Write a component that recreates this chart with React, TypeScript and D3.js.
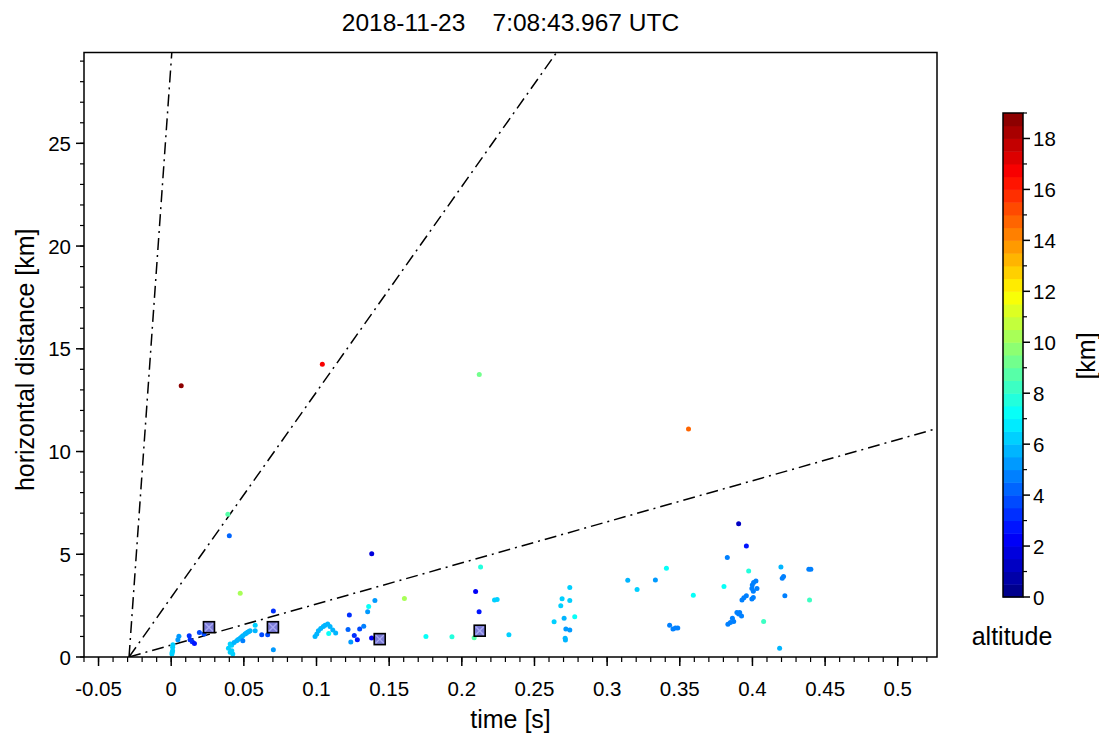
import React from 'react';
import * as d3 from 'd3';

const titleText = '2018-11-23    7:08:43.967 UTC';
const xLabel = 'time [s]';
const yLabel = 'horizontal distance [km]';
const cbUnit = '[km]';
const cbLabel = 'altitude';

const xMajorTicks = [-0.05, 0, 0.05, 0.1, 0.15, 0.2, 0.25, 0.3, 0.35, 0.4, 0.45, 0.5];
const xTickLabels = ['-0.05', '0', '0.05', '0.1', '0.15', '0.2', '0.25', '0.3', '0.35', '0.4', '0.45', '0.5'];
const yMajorTicks = [0, 5, 10, 15, 20, 25];
const cbMajorTicks = [0, 2, 4, 6, 8, 10, 12, 14, 16, 18];

// sources: time [s], horizontal distance [km], altitude [km]
const times = [
  0.0069, 0.104, 0.212, 0.356, 0.039, 0.040, 0.138, 0.0475, 0.1605,
  0.0012, 0.001, 0.001, 0.0007, 0.0005, 0.0053, 0.0046, 0.0124, 0.013, 0.0145, 0.016, 0.0194, 0.0226,
  0.0406, 0.0394, 0.0406, 0.0424, 0.0417, 0.0416, 0.0433, 0.0451, 0.0461, 0.0474, 0.0484, 0.0493, 0.0508, 0.0516, 0.0525, 0.0535, 0.0543, 0.0578, 0.0578, 0.0493, 0.0623, 0.0664, 0.0703, 0.0703,
  0.099, 0.1002, 0.1013, 0.1029, 0.1047, 0.1059, 0.1077, 0.1093, 0.1112, 0.1132, 0.1084,
  0.1402, 0.1359, 0.1352, 0.1226, 0.1325, 0.1297, 0.1217, 0.126, 0.1281, 0.1236, 0.1379,
  0.1753, 0.1932, 0.2085, 0.2129, 0.2095, 0.2225, 0.2243, 0.2119, 0.2324,
  0.2743, 0.269, 0.2743, 0.2681, 0.2704, 0.2777, 0.2635, 0.2716, 0.2743, 0.2711, 0.2713,
  0.3408, 0.3142, 0.3332, 0.3206, 0.343, 0.3453, 0.347, 0.3486,
  0.3593, 0.3804, 0.3827, 0.3905, 0.3958, 0.3974, 0.4196, 0.4388, 0.4402, 0.4205, 0.4214, 0.4223, 0.4393, 0.4077, 0.4187,
  0.4024, 0.4008, 0.3999, 0.3996, 0.4006, 0.4031, 0.3996, 0.4006, 0.3928, 0.3941, 0.3958,
  0.3893, 0.3912, 0.3925, 0.3905, 0.3862, 0.3871, 0.3848, 0.3831,
];
const dists = [
  13.2, 14.25, 13.75, 11.1, 6.95, 5.9, 5.03, 3.1, 2.85,
  0.6, 0.47, 0.31, 0.23, 0.15, 1.01, 0.84, 1.03, 0.84, 0.74, 0.66, 1.19, 1.12,
  0.63, 0.42, 0.23, 0.15, 0.31, 0.57, 0.71, 0.79, 0.85, 0.91, 0.97, 1.03, 1.12, 1.16, 1.2, 1.24, 1.28, 1.28, 1.55, 0.79, 1.08, 1.08, 2.24, 0.35,
  1.0, 1.12, 1.28, 1.39, 1.49, 1.55, 1.6, 1.49, 1.32, 1.17, 1.14,
  2.75, 2.46, 2.2, 2.04, 1.5, 1.36, 1.34, 1.05, 0.84, 0.73, 0.92,
  1.0, 0.98, 0.94, 4.38, 3.19, 2.77, 2.8, 2.2, 1.08,
  3.38, 2.83, 2.75, 2.49, 1.89, 1.96, 1.71, 1.36, 1.31, 0.91, 0.83,
  4.32, 3.74, 3.75, 3.29, 1.55, 1.36, 1.41, 1.41,
  3.0, 3.43, 4.84, 6.49, 5.4, 4.19, 4.38, 4.27, 4.27, 3.83, 3.92, 2.98, 2.78, 1.73, 0.42,
  3.7, 3.63, 3.51, 3.33, 3.2, 3.33, 2.82, 2.9, 2.78, 2.88, 2.98,
  2.17, 2.17, 2.0, 2.09, 1.89, 1.73, 1.68, 1.59,
];
const alts = [
  18.5, 16.5, 9.2, 14.5, 8.5, 4.2, 1.5, 10.2, 10.2,
  6.3, 6.0, 6.0, 6.0, 6.0, 5.0, 5.0, 3.0, 3.0, 3.0, 2.5, 3.5, 3.5,
  6.2, 6.2, 6.2, 6.2, 6.2, 6.0, 5.5, 5.5, 5.5, 5.5, 5.5, 5.5, 5.5, 5.5, 5.5, 5.5, 5.5, 5.5, 6.3, 4.8, 3.8, 3.8, 3.0, 5.0,
  5.5, 5.5, 5.5, 5.5, 5.5, 5.5, 5.5, 5.5, 5.5, 5.5, 7.0,
  5.0, 7.0, 5.0, 3.0, 4.5, 3.5, 4.0, 3.0, 2.5, 5.0, 2.0,
  7.2, 7.8, 8.5, 7.5, 2.2, 6.0, 6.0, 2.8, 6.0,
  6.0, 6.3, 6.0, 6.3, 5.5, 7.2, 6.0, 5.3, 5.3, 5.8, 5.8,
  7.0, 5.8, 5.3, 6.0, 4.5, 4.8, 4.8, 4.8,
  7.0, 7.2, 4.5, 1.2, 2.8, 7.8, 5.5, 4.5, 4.5, 4.5, 4.5, 4.7, 8.0, 8.0, 5.5,
  4.7, 4.7, 4.7, 4.7, 4.7, 4.7, 4.7, 4.7, 4.7, 4.7, 4.7,
  4.5, 4.5, 4.5, 4.5, 4.5, 4.5, 4.5, 4.5,
];

const markerTimes = [0.026, 0.07, 0.1435, 0.2123];
const markerDists = [1.45, 1.45, 0.87, 1.28];

const lineOrigin = -0.029; // s
const lineSpeeds = [1000, 100, 20]; // km/s

const W = 1099;
const H = 738;
const L = 84, R = 937, T = 52.5, B = 657;
const xDomain = [-0.06, 0.527];
const yDomain = [0, 29.42];
const altDomain = [0, 19];
const nLevels = 38;

const CB = { x: 1003, w: 20, top: 113, bottom: 597 };

function clamp01(v: number) { return Math.max(0, Math.min(1, v)); }
function jet(x: number) {
  const r = clamp01(Math.min(4 * x - 1.5, -4 * x + 4.5));
  const g = clamp01(Math.min(4 * x - 0.5, -4 * x + 3.5));
  const b = clamp01(Math.min(4 * x + 0.5, -4 * x + 2.5));
  return d3.rgb(r * 255, g * 255, b * 255).formatHex();
}
function altColor(a: number) {
  const step = (altDomain[1] - altDomain[0]) / nLevels;
  const idx = Math.max(0, Math.min(nLevels - 1, Math.floor((a - altDomain[0]) / step)));
  return jet((idx + 0.5) / nLevels);
}

export default function App() {
  const x = d3.scaleLinear().domain(xDomain).range([L, R]);
  const y = d3.scaleLinear().domain(yDomain).range([B, T]);
  const cbY = d3.scaleLinear().domain(altDomain).range([CB.bottom, CB.top]);

  const xMinor = d3.range(-60, 527, 10).map((v) => v / 1000);
  const yMinor = d3.range(0, 30, 1);
  const cbMinor = d3.range(1, 20, 2);

  const font = 'Liberation Sans, Arial, sans-serif';
  const step = (altDomain[1] - altDomain[0]) / nLevels;
  const levels = d3.range(nLevels);

  const lineGen = d3.line<[number, number]>().x((d) => x(d[0])).y((d) => y(d[1]));
  const tickFs = 20.5;
  const labelFs = 25;

  return (
    <svg width={W} height={H} style={{ position: 'absolute', left: 0, top: 0, background: '#fff' }} fontFamily={font}>
      <defs>
        <clipPath id="plotclip">
          <rect x={L} y={T} width={R - L} height={B - T} />
        </clipPath>
      </defs>
      <rect x={0} y={0} width={W} height={H} fill="#fff" />
      <text x={(L + R) / 2} y={31} textAnchor="middle" fontSize={24.5} style={{ whiteSpace: 'pre' }}>{titleText}</text>

      {/* reference speed lines */}
      <g clipPath="url(#plotclip)">
        {lineSpeeds.map((v, i) => {
          const tEnd = xDomain[1];
          const pts: [number, number][] = [[lineOrigin, 0], [tEnd, v * (tEnd - lineOrigin)]];
          return <path key={i} d={lineGen(pts) || ''} fill="none" stroke="#000" strokeWidth={1.5} strokeDasharray="12,5,2,5" />;
        })}
      </g>

      {/* points */}
      <g clipPath="url(#plotclip)">
        {times.map((t, i) => (
          <circle key={i} cx={x(t)} cy={y(dists[i])} r={2.5} fill={altColor(alts[i])} />
        ))}
        {markerTimes.map((t, i) => {
          const cx = x(t), cy = y(markerDists[i]), s = 5.5;
          return (
            <g key={'m' + i}>
              <rect x={cx - s} y={cy - s} width={2 * s} height={2 * s} fill="#7b7bd6" stroke="#000" strokeWidth={1.6} />
              <line x1={cx - s + 1.5} y1={cy - s + 1.5} x2={cx + s - 1.5} y2={cy + s - 1.5} stroke="#a9a9f2" strokeWidth={1.4} />
              <line x1={cx - s + 1.5} y1={cy + s - 1.5} x2={cx + s - 1.5} y2={cy - s + 1.5} stroke="#a9a9f2" strokeWidth={1.4} />
            </g>
          );
        })}
      </g>

      {/* frame */}
      <rect x={L} y={T} width={R - L} height={B - T} fill="none" stroke="#000" strokeWidth={1.5} />

      {/* x axis ticks */}
      {xMinor.map((v, i) => (
        <line key={'xm' + i} x1={x(v)} x2={x(v)} y1={B} y2={B + 5} stroke="#000" strokeWidth={1.2} />
      ))}
      {xMajorTicks.map((v, i) => (
        <g key={'xM' + i}>
          <line x1={x(v)} x2={x(v)} y1={B} y2={B + 9} stroke="#000" strokeWidth={1.5} />
          <text x={x(v)} y={696} textAnchor="middle" fontSize={tickFs}>{xTickLabels[i]}</text>
        </g>
      ))}
      {/* y axis ticks */}
      {yMinor.map((v, i) => (
        <line key={'ym' + i} x1={L - 4} x2={L} y1={y(v)} y2={y(v)} stroke="#000" strokeWidth={1.2} />
      ))}
      {yMajorTicks.map((v, i) => (
        <g key={'yM' + i}>
          <line x1={L - 8} x2={L} y1={y(v)} y2={y(v)} stroke="#000" strokeWidth={1.5} />
          <text x={L - 13} y={y(v) + 7.5} textAnchor="end" fontSize={tickFs}>{String(v)}</text>
        </g>
      ))}

      <text x={(L + R) / 2} y={728} textAnchor="middle" fontSize={labelFs}>{xLabel}</text>
      <text transform={`translate(34,${(T + B) / 2 + 5}) rotate(-90)`} textAnchor="middle" fontSize={labelFs}>{yLabel}</text>

      {/* colorbar */}
      {levels.map((i) => (
        <rect key={'cb' + i} x={CB.x} y={cbY((i + 1) * step)} width={CB.w} height={cbY(i * step) - cbY((i + 1) * step) + 0.5} fill={jet((i + 0.5) / nLevels)} />
      ))}
      <rect x={CB.x} y={CB.top} width={CB.w} height={CB.bottom - CB.top} fill="none" stroke="#000" strokeWidth={1.5} />
      {cbMinor.map((v, i) => (
        <line key={'cm' + i} x1={CB.x + CB.w} x2={CB.x + CB.w + 4} y1={cbY(v)} y2={cbY(v)} stroke="#000" strokeWidth={1.2} />
      ))}
      {cbMajorTicks.map((v, i) => (
        <g key={'cM' + i}>
          <line x1={CB.x + CB.w} x2={CB.x + CB.w + 7} y1={cbY(v)} y2={cbY(v)} stroke="#000" strokeWidth={1.5} />
          <text x={CB.x + CB.w + 10} y={cbY(v) + 7.5} fontSize={tickFs}>{String(v)}</text>
        </g>
      ))}
      <text transform={`translate(1095,356) rotate(-90)`} textAnchor="middle" fontSize={labelFs}>{cbUnit}</text>
      <text x={1012} y={645} textAnchor="middle" fontSize={labelFs}>{cbLabel}</text>
    </svg>
  );
}
